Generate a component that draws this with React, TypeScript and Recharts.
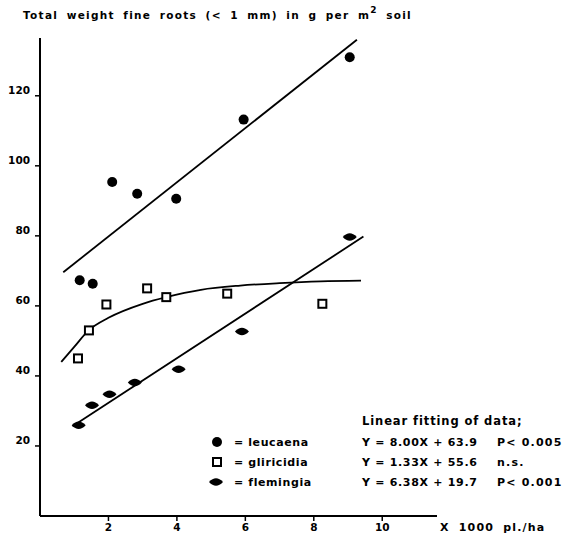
import React from "react";
import { ComposedChart, XAxis, YAxis, Scatter, Line } from "recharts";

const leucaena = [
  { x: 1.16, y: 67.3 },
  { x: 1.54, y: 66.3 },
  { x: 2.11, y: 95.4 },
  { x: 2.84, y: 92.0 },
  { x: 3.98, y: 90.6 },
  { x: 5.95, y: 113.2 },
  { x: 9.05, y: 131.0 },
];
const gliricidia = [
  { x: 1.11, y: 45.0 },
  { x: 1.43, y: 53.0 },
  { x: 1.94, y: 60.4 },
  { x: 3.13, y: 65.0 },
  { x: 3.69, y: 62.5 },
  { x: 5.47, y: 63.5 },
  { x: 8.25, y: 60.6 },
];
const flemingia = [
  { x: 1.13, y: 25.9 },
  { x: 1.52, y: 31.6 },
  { x: 2.03, y: 34.8 },
  { x: 2.77, y: 38.1 },
  { x: 4.05, y: 41.9 },
  { x: 5.9, y: 52.7 },
  { x: 9.05, y: 79.7 },
];
// fitted lines
const leucaenaFit = [
  { x: 0.68, y: 69.6 },
  { x: 9.26, y: 136.0 },
];
const gliricidiaFit = [
  { x: 0.62, y: 44.0 },
  { x: 1.0, y: 48.3 },
  { x: 1.42, y: 53.0 },
  { x: 2.0, y: 56.6 },
  { x: 3.0, y: 60.6 },
  { x: 3.69, y: 62.5 },
  { x: 4.7, y: 64.6 },
  { x: 5.85, y: 65.8 },
  { x: 7.0, y: 66.5 },
  { x: 8.2, y: 67.0 },
  { x: 9.38, y: 67.2 },
];
const flemingiaFit = [
  { x: 0.95, y: 25.6 },
  { x: 9.45, y: 79.8 },
];

const xTicks = [2, 4, 6, 8, 10];
const yTicks = [20, 40, 60, 80, 100, 120];

const titleMain = "Total weight fine roots (< 1 mm) in g per m";
const titleSup = "2";
const titleEnd = " soil";
const xUnit = "X 1000 pl./ha";
const fitHeader = "Linear fitting of data;";
const legendNames = ["= leucaena", "= gliricidia", "= flemingia"];
const fitEquations = ["Y = 8.00X + 63.9", "Y = 1.33X + 55.6", "Y = 6.38X + 19.7"];
const fitSignif = ["P< 0.005", "n.s.", "P< 0.001"];

const FONT = "'DejaVu Sans', Arial, sans-serif";

const Dot = (props: any) => {
  const { cx, cy } = props;
  if (cx == null || cy == null) return null;
  return <circle cx={cx} cy={cy} r={5} fill="#000" />;
};
const Sq = (props: any) => {
  const { cx, cy } = props;
  if (cx == null || cy == null) return null;
  return (
    <rect x={cx - 4} y={cy - 4} width={8} height={8} fill="#fff" stroke="#000" strokeWidth={2} />
  );
};
const Lens = (props: any) => {
  const { cx, cy } = props;
  if (cx == null || cy == null) return null;
  return <path d={`M${cx - 7},${cy} Q${cx},${cy - 7.5} ${cx + 7},${cy} Q${cx},${cy + 7.5} ${cx - 7},${cy} Z`} fill="#000" />;
};

const YTick = (props: any) => {
  const { x, y, payload } = props;
  return (
    <text x={x} y={y - 2} textAnchor="end" fontFamily={FONT} fontWeight="bold" fontSize={10.5} fill="#000">
      {payload.value}
    </text>
  );
};
const XTick = (props: any) => {
  const { x, y, payload } = props;
  return (
    <text x={x} y={y + 8} textAnchor="middle" fontFamily={FONT} fontWeight="bold" fontSize={10.5} fill="#000">
      {payload.value}
    </text>
  );
};

export default function App() {
  const rowsY = [442, 462, 482];
  return (
    <div style={{ position: "absolute", left: 0, top: 0, width: 564, height: 544, background: "#fff" }}>
      <ComposedChart width={564} height={544} margin={{ top: 38, right: 127, bottom: 0, left: 0 }}>
        <XAxis
          type="number"
          dataKey="x"
          domain={[0, 11.6]}
          ticks={xTicks}
          allowDataOverflow
          height={28}
          axisLine={{ stroke: "#000", strokeWidth: 2 }}
          tickLine={{ stroke: "#000", strokeWidth: 1.5 }}
          tickSize={5}
          tickMargin={2}
          tick={<XTick />}
        />
        <YAxis
          type="number"
          dataKey="y"
          domain={[0, 136.5]}
          ticks={yTicks}
          allowDataOverflow
          width={40}
          axisLine={{ stroke: "#000", strokeWidth: 2 }}
          tickLine={{ stroke: "#000", strokeWidth: 1.5 }}
          tickSize={5}
          tickMargin={5}
          tick={<YTick />}
        />
        <Line data={leucaenaFit} dataKey="y" type="linear" stroke="#000" strokeWidth={1.8} dot={false} isAnimationActive={false} />
        <Line data={gliricidiaFit} dataKey="y" type="monotone" stroke="#000" strokeWidth={1.8} dot={false} isAnimationActive={false} />
        <Line data={flemingiaFit} dataKey="y" type="linear" stroke="#000" strokeWidth={1.8} dot={false} isAnimationActive={false} />
        <Scatter data={leucaena} dataKey="y" shape={<Dot />} isAnimationActive={false} />
        <Scatter data={gliricidia} dataKey="y" shape={<Sq />} isAnimationActive={false} />
        <Scatter data={flemingia} dataKey="y" shape={<Lens />} isAnimationActive={false} />
      </ComposedChart>
      <svg width={564} height={544} style={{ position: "absolute", left: 0, top: 0, pointerEvents: "none" }}>
        <g fontFamily={FONT} fontWeight="bold" fill="#000">
          <text x={23} y={19} fontSize={10.5} letterSpacing={1.3} wordSpacing={3.5}>
            {titleMain}
            <tspan dy={-6} fontSize={9}>{titleSup}</tspan>
            <tspan dy={6} fontSize={10.5}>{titleEnd}</tspan>
          </text>
          <text x={440} y={531} fontSize={11} letterSpacing={1.2} wordSpacing={4}>{xUnit}</text>
          <text x={362} y={425} fontSize={11.5} letterSpacing={0.9}>{fitHeader}</text>
          {legendNames.map((n, i) => (
            <text key={n} x={234} y={rowsY[i] + 4} fontSize={11} letterSpacing={0.6}>{n}</text>
          ))}
          {fitEquations.map((e, i) => (
            <text key={e} x={362} y={rowsY[i] + 4} fontSize={11} letterSpacing={0.7}>{e}</text>
          ))}
          {fitSignif.map((s, i) => (
            <text key={s} x={497} y={rowsY[i] + 4} fontSize={11} letterSpacing={1.2}>{s}</text>
          ))}
        </g>
        <circle cx={217} cy={rowsY[0]} r={5} fill="#000" />
        <rect x={213} y={rowsY[1] - 4} width={8} height={8} fill="#fff" stroke="#000" strokeWidth={2} />
        <path d={`M${209},${rowsY[2]} Q${216},${rowsY[2] - 7.5} ${223},${rowsY[2]} Q${216},${rowsY[2] + 7.5} ${209},${rowsY[2]} Z`} fill="#000" />
      </svg>
    </div>
  );
}
